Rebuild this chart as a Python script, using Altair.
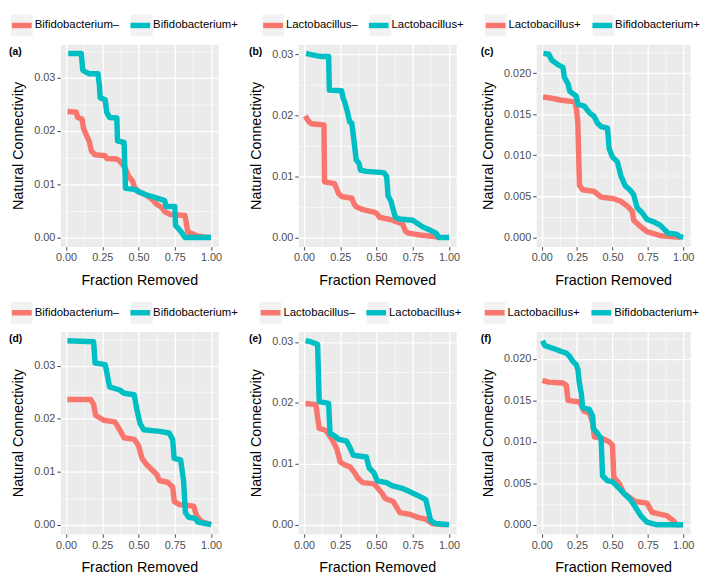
import altair as alt
import pandas as pd

# ---------------- data ----------------
tags = ["(a)", "(b)", "(c)", "(d)", "(e)", "(f)"]
names_a = ["Bifidobacterium–", "Bifidobacterium+"]
names_b = ["Lactobacillus–", "Lactobacillus+"]
names_c = ["Lactobacillus+", "Bifidobacterium+"]

a_red_x = [0.01, 0.07, 0.08, 0.11, 0.12, 0.14, 0.16, 0.175, 0.20, 0.27, 0.28, 0.35, 0.37, 0.39, 0.41, 0.43, 0.46, 0.47, 0.50, 0.55, 0.60, 0.62, 0.66, 0.68, 0.72, 0.82, 0.84, 0.87, 0.90, 0.95, 0.99]
a_red_y = [0.0236, 0.0235, 0.0225, 0.0222, 0.0205, 0.0192, 0.0180, 0.0162, 0.0155, 0.0153, 0.0148, 0.0147, 0.0143, 0.0137, 0.0128, 0.0115, 0.0105, 0.0095, 0.0085, 0.0080, 0.0070, 0.0063, 0.0056, 0.0048, 0.0043, 0.0041, 0.0010, 0.0007, 0.0003, 0.0001, 0.0]
a_teal_x = [0.015, 0.105, 0.115, 0.13, 0.16, 0.22, 0.23, 0.235, 0.27, 0.28, 0.30, 0.35, 0.355, 0.40, 0.41, 0.47, 0.50, 0.55, 0.60, 0.66, 0.68, 0.69, 0.75, 0.755, 0.78, 0.80, 0.82, 1.0]
a_teal_y = [0.0345, 0.0345, 0.0314, 0.0311, 0.0307, 0.0307, 0.0285, 0.0262, 0.0258, 0.0235, 0.0225, 0.0224, 0.0181, 0.0178, 0.0092, 0.0090, 0.0086, 0.0080, 0.0076, 0.0071, 0.0069, 0.0058, 0.0058, 0.0022, 0.0015, 0.0008, 0.0, 0.0]

b_red_x = [0.01, 0.025, 0.05, 0.138, 0.142, 0.21, 0.225, 0.24, 0.26, 0.33, 0.345, 0.36, 0.40, 0.49, 0.51, 0.52, 0.60, 0.68, 0.70, 0.72, 0.80, 0.88, 0.93]
b_red_y = [0.0199, 0.0192, 0.0186, 0.0184, 0.0091, 0.0088, 0.0080, 0.0071, 0.0067, 0.0064, 0.0055, 0.0050, 0.0046, 0.0041, 0.0037, 0.0033, 0.0029, 0.0022, 0.0010, 0.0007, 0.0004, 0.0002, 0.0]
b_teal_x = [0.015, 0.05, 0.094, 0.12, 0.17, 0.175, 0.26, 0.27, 0.28, 0.30, 0.315, 0.33, 0.345, 0.36, 0.38, 0.39, 0.43, 0.55, 0.57, 0.58, 0.60, 0.63, 0.66, 0.75, 0.82, 0.86, 0.91, 0.93, 1.0]
b_teal_y = [0.0301, 0.0299, 0.0297, 0.0296, 0.0296, 0.0241, 0.0240, 0.0228, 0.0222, 0.0205, 0.0189, 0.0187, 0.0158, 0.0127, 0.0121, 0.0110, 0.0108, 0.0106, 0.0100, 0.0068, 0.0059, 0.0033, 0.0030, 0.0028, 0.0017, 0.0013, 0.0007, 0.0, 0.0]

c_red_x = [0.01, 0.05, 0.14, 0.235, 0.245, 0.255, 0.267, 0.29, 0.37, 0.42, 0.51, 0.56, 0.605, 0.64, 0.65, 0.70, 0.745, 0.84, 0.98]
c_red_y = [0.0171, 0.0170, 0.0167, 0.0165, 0.0156, 0.0141, 0.0063, 0.0058, 0.0056, 0.0049, 0.0047, 0.0044, 0.0038, 0.0032, 0.0021, 0.0013, 0.0007, 0.0002, 0.0]
c_teal_x = [0.012, 0.05, 0.07, 0.116, 0.15, 0.16, 0.186, 0.198, 0.244, 0.256, 0.30, 0.337, 0.372, 0.395, 0.42, 0.465, 0.477, 0.50, 0.535, 0.56, 0.59, 0.628, 0.65, 0.675, 0.71, 0.744, 0.79, 0.837, 0.895, 0.953, 0.977, 1.0]
c_teal_y = [0.0224, 0.0223, 0.0216, 0.0210, 0.0207, 0.0195, 0.0187, 0.0178, 0.0172, 0.0162, 0.0160, 0.0152, 0.0147, 0.0139, 0.0135, 0.0133, 0.0108, 0.0098, 0.0092, 0.0075, 0.0063, 0.0057, 0.0052, 0.0036, 0.0030, 0.0022, 0.0019, 0.0015, 0.0005, 0.0004, 0.0001, 0.0]

d_red_x = [0.009, 0.17, 0.19, 0.204, 0.26, 0.336, 0.37, 0.40, 0.47, 0.50, 0.524, 0.557, 0.59, 0.624, 0.646, 0.70, 0.735, 0.746, 0.78, 0.88, 0.90, 0.933, 1.0]
d_red_y = [0.0236, 0.0236, 0.0227, 0.0206, 0.0197, 0.0194, 0.0179, 0.0164, 0.0161, 0.0149, 0.0125, 0.0113, 0.0104, 0.0095, 0.0083, 0.0080, 0.0071, 0.0044, 0.0038, 0.0035, 0.0017, 0.0006, 0.0]
d_teal_x = [0.009, 0.19, 0.20, 0.27, 0.30, 0.37, 0.40, 0.47, 0.49, 0.51, 0.535, 0.646, 0.71, 0.735, 0.745, 0.79, 0.81, 0.823, 0.845, 0.89, 0.91, 1.0]
d_teal_y = [0.0347, 0.0345, 0.0305, 0.0302, 0.0260, 0.0254, 0.0248, 0.0245, 0.0215, 0.0191, 0.0179, 0.0176, 0.0173, 0.0161, 0.0125, 0.0122, 0.0083, 0.0023, 0.0014, 0.0012, 0.0005, 0.0]

e_red_x = [0.011, 0.082, 0.105, 0.15, 0.194, 0.227, 0.25, 0.283, 0.316, 0.35, 0.37, 0.405, 0.483, 0.505, 0.54, 0.56, 0.616, 0.66, 0.73, 0.784, 0.84, 0.884, 0.97]
e_red_y = [0.0199, 0.0197, 0.0158, 0.0155, 0.0140, 0.0124, 0.0103, 0.0098, 0.0095, 0.0085, 0.0077, 0.0069, 0.0067, 0.0061, 0.0051, 0.0043, 0.0038, 0.0020, 0.0017, 0.0012, 0.0009, 0.0002, 0.0]
e_teal_x = [0.011, 0.05, 0.094, 0.105, 0.17, 0.18, 0.216, 0.24, 0.294, 0.316, 0.34, 0.43, 0.45, 0.483, 0.505, 0.57, 0.606, 0.684, 0.73, 0.784, 0.84, 0.873, 0.906, 1.0]
e_teal_y = [0.0302, 0.0300, 0.0296, 0.0202, 0.0199, 0.0150, 0.0145, 0.0140, 0.0137, 0.0127, 0.0114, 0.0111, 0.0093, 0.0085, 0.0072, 0.0069, 0.0064, 0.0059, 0.0054, 0.0048, 0.0041, 0.0007, 0.0002, 0.0]

f_red_x = [0.005, 0.047, 0.15, 0.174, 0.186, 0.267, 0.30, 0.337, 0.36, 0.372, 0.43, 0.477, 0.50, 0.51, 0.547, 0.58, 0.628, 0.663, 0.744, 0.78, 0.826, 0.884, 0.93, 0.953, 0.99]
f_red_y = [0.0174, 0.0172, 0.0171, 0.0168, 0.0150, 0.0148, 0.0137, 0.0135, 0.0123, 0.0106, 0.0104, 0.0100, 0.0096, 0.0057, 0.0050, 0.0038, 0.0032, 0.0028, 0.0026, 0.0015, 0.0013, 0.0011, 0.0005, 0.0, 0.0]
f_teal_x = [0.005, 0.023, 0.093, 0.14, 0.174, 0.198, 0.22, 0.244, 0.256, 0.267, 0.28, 0.29, 0.337, 0.36, 0.365, 0.395, 0.42, 0.43, 0.465, 0.50, 0.535, 0.58, 0.628, 0.663, 0.70, 0.744, 0.81, 1.0]
f_teal_y = [0.0222, 0.0216, 0.0212, 0.0209, 0.0207, 0.0203, 0.0197, 0.0193, 0.0187, 0.0170, 0.0158, 0.0141, 0.0139, 0.0131, 0.0116, 0.0110, 0.0104, 0.0059, 0.0053, 0.0052, 0.0046, 0.0038, 0.0030, 0.0021, 0.0011, 0.0003, 0.0, 0.0]

x_ticks = [0, 0.125, 0.25, 0.375, 0.5, 0.625, 0.75, 0.875, 1.0]
y_ticks_01 = [0, 0.005, 0.01, 0.015, 0.02, 0.025, 0.03, 0.035]
y_ticks_005 = [0, 0.0025, 0.005, 0.0075, 0.01, 0.0125, 0.015, 0.0175, 0.02, 0.0225]

# ---------------- style ----------------
RED = "#F8766D"
TEAL = "#00BFC4"
KEYBG = "#F2F2F2"
FONT = "Liberation Sans"
LEG_FS = 11.5
H = 205
XDOM = [-0.0395, 1.0495]
ZW = "\u200b"  # keeps the key-background legend separate from the colour legend

# Liberation Sans (Arial metric) advance widths, per 1000 em, to space the key boxes
ADV = {"B": 667, "i": 222, "f": 278, "d": 556, "o": 556, "b": 556, "a": 556,
       "c": 500, "t": 278, "e": 556, "r": 333, "u": 556, "m": 833, "L": 556,
       "l": 222, "s": 500, "+": 584, "–": 556}


def text_w(s, fs):
    return sum(ADV.get(ch, 556) for ch in s) * fs / 1000.0


def make_panel(tag, names, rx, ry, tx, ty, yticks, minor, fmt, width, legx):
    n1, n2 = len(rx), len(tx)
    df = pd.DataFrame({
        "x": rx + tx,
        "y": ry + ty,
        "series": [names[0]] * n1 + [names[1]] * n2,
        "ord": list(range(n1 + n2)),
    })
    df["key"] = df["series"] + ZW
    ymax = max(ry + ty)
    ydom = [-0.05 * ymax, 1.05 * ymax]
    yt = [v for v in yticks if v <= ydom[1]]

    xmaj = "round(datum.value*8)%2==0"
    ymaj = "round(datum.value/%g)%%2==0" % minor

    xaxis = alt.Axis(
        values=x_ticks,
        labelExpr=xmaj + " ? format(datum.value, '.2f') : ''",
        gridWidth={"condition": {"test": xmaj, "value": 1.3}, "value": 0.6},
        tickOpacity={"condition": {"test": xmaj, "value": 1}, "value": 0},
        title="Fraction Removed",
        titlePadding=11,
    )
    yaxis = alt.Axis(
        values=yt,
        labelExpr=ymaj + " ? format(datum.value, '%s') : ''" % fmt,
        gridWidth={"condition": {"test": ymaj, "value": 1.3}, "value": 0.6},
        tickOpacity={"condition": {"test": ymaj, "value": 1}, "value": 0},
        title="Natural Connectivity",
        titlePadding=8,
    )
    xenc = alt.X("x:Q", scale=alt.Scale(domain=XDOM, nice=False, zero=False), axis=xaxis)
    yenc = alt.Y("y:Q", scale=alt.Scale(domain=ydom, nice=False, zero=False), axis=yaxis)

    common = dict(
        orient="none", legendX=legx, legendY=-32, direction="horizontal",
        columns=2, title=None, labelFontSize=LEG_FS,
        labelFont=FONT, labelColor="black", labelOffset=0, padding=0,
    )
    # grey key boxes (drawn beneath the coloured keys, no label text of their own)
    bg = alt.Chart(df).mark_square(opacity=0).encode(
        x=xenc, y=yenc,
        fill=alt.Fill("key:N", scale=alt.Scale(domain=[n + ZW for n in names], range=[KEYBG, KEYBG]),
                      legend=alt.Legend(symbolType="square", symbolOpacity=1, symbolSize=484,
                                        symbolStrokeWidth=3.5, symbolStrokeColor="transparent",
                                        labelExpr="''", columnPadding=text_w(names[0], LEG_FS),
                                        zindex=1, **common)),
    )
    lines = alt.Chart(df).mark_line(strokeWidth=5.5, strokeJoin="round", strokeCap="butt").encode(
        x=xenc, y=yenc,
        color=alt.Color("series:N", scale=alt.Scale(domain=names, range=[RED, TEAL]),
                        legend=alt.Legend(symbolType="stroke", symbolSize=400,
                                          symbolStrokeWidth=5.5, columnPadding=0,
                                          zindex=2, **common)),
        order="ord:Q",
    )
    return alt.layer(bg, lines).properties(
        width=width, height=H,
        title=alt.TitleParams(tag, anchor="start", frame="bounds", orient="top",
                              fontSize=10.5, fontWeight="bold", font=FONT,
                              color="black", offset=-45.5),
    )


panels = [
    make_panel(tags[0], names_a, a_red_x, a_red_y, a_teal_x, a_teal_y, y_ticks_01, 0.005, ".2f", 160, -52),
    make_panel(tags[1], names_b, b_red_x, b_red_y, b_teal_x, b_teal_y, y_ticks_01, 0.005, ".2f", 160, -38.5),
    make_panel(tags[2], names_c, c_red_x, c_red_y, c_teal_x, c_teal_y, y_ticks_005, 0.0025, ".3f", 156, -54),
    make_panel(tags[3], names_a, d_red_x, d_red_y, d_teal_x, d_teal_y, y_ticks_01, 0.005, ".2f", 160, -52),
    make_panel(tags[4], names_b, e_red_x, e_red_y, e_teal_x, e_teal_y, y_ticks_01, 0.005, ".2f", 160, -41),
    make_panel(tags[5], names_c, f_red_x, f_red_y, f_teal_x, f_teal_y, y_ticks_005, 0.0025, ".3f", 156, -55),
]

chart = alt.concat(
    *panels, columns=3, bounds="flush",
    spacing=alt.RowColnumber(row=86, column=81),
).resolve_scale(
    x="independent", y="independent", color="independent", fill="independent"
).properties(
    padding=0, background="white"
).configure_view(
    fill="#EBEBEB", stroke="transparent"
).configure_axis(
    domain=False, gridColor="white", tickColor="#333333", tickSize=3.5,
    tickWidth=0.9, labelColor="#4D4D4D", labelFontSize=11, labelFont=FONT,
    labelPadding=2, labelOverlap=False, labelFlush=False, labelBound=False,
    titleFont=FONT, titleFontSize=14.5, titleFontWeight="normal", titleColor="black",
)

chart.save("out.html", embed_options={"renderer": "svg", "actions": False})
